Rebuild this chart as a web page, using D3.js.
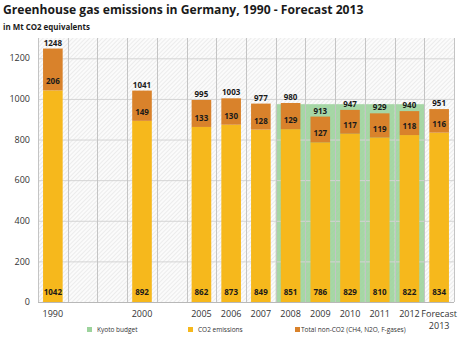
<!DOCTYPE html>
<html><head><meta charset="utf-8">
<script src="https://cdn.jsdelivr.net/npm/d3@7"></script>
<style>body{margin:0;background:#fff}svg{display:block}text{font-family:"Open Sans",sans-serif}</style>
</head><body><svg id="c" width="460" height="337"></svg>
<script>
// ---- data ----
const slots = ["1990","gapA","gapB","2000","gapC","2005","2006","2007","2008","2009","2010","2011","2012","Forecast 2013"];
const categories = ["1990","2000","2005","2006","2007","2008","2009","2010","2011","2012","Forecast 2013"];
const co2 = [1042,892,862,873,849,851,786,829,810,822,834];
const nonCo2 = [206,149,133,130,128,129,127,117,119,118,116];
const totals = [1248,1041,995,1003,977,980,913,947,929,940,951];
const kyotoYears = ["2008","2009","2010","2011","2012"];
const kyotoBudget = [974,974,974,974,974];
const yTicks = [0,200,400,600,800,1000,1200];
const legendLabels = ["Kyoto budget","CO2 emissions","Total non-CO2 (CH4, N2O, F-gases)"];

const C_CO2="#f6b81c", C_NON="#d9822b", C_KYOTO="#9cd39c";
const svg=d3.select("#c");
const L=38,R=454,T=38,B=302;
const x=d3.scaleBand().domain(slots).range([L,R]).paddingInner(0).paddingOuter(0);
const y=d3.scaleLinear().domain([0,1300]).range([B,T]);
const bw=x.bandwidth()*0.66;

// hatch pattern
const defs=svg.append("defs");
const pat=defs.append("pattern").attr("id","hatch").attr("width",3).attr("height",3)
  .attr("patternUnits","userSpaceOnUse").attr("patternTransform","rotate(45)");
pat.append("rect").attr("width",3).attr("height",3).attr("fill","#fbfbfb");
pat.append("line").attr("x1",0).attr("y1",0).attr("x2",0).attr("y2",3).attr("stroke","#dedede").attr("stroke-width",1);
svg.append("rect").attr("x",L).attr("y",T).attr("width",R-L).attr("height",B-T).attr("fill","url(#hatch)");

// kyoto band
svg.append("g").selectAll("rect").data(kyotoYears).join("rect")
  .attr("x",d=>x(d)).attr("width",x.bandwidth())
  .attr("y",(d,i)=>y(kyotoBudget[i])).attr("height",(d,i)=>B-y(kyotoBudget[i]))
  .attr("fill",C_KYOTO).attr("opacity",0.9);

// grid
svg.append("g").selectAll("line").data(yTicks.slice(1)).join("line")
  .attr("x1",L).attr("x2",R).attr("y1",d=>y(d)+0.5).attr("y2",d=>y(d)+0.5)
  .attr("stroke","#d4d4d4").attr("stroke-width",1);
const vx=slots.map(s=>x(s)).concat([R]);
svg.append("g").selectAll("line").data(vx).join("line")
  .attr("x1",d=>Math.round(d)+0.5).attr("x2",d=>Math.round(d)+0.5).attr("y1",T).attr("y2",B)
  .attr("stroke","#c4c4c4").attr("stroke-width",1);
svg.append("line").attr("x1",L).attr("x2",R).attr("y1",B+0.5).attr("y2",B+0.5).attr("stroke","#b8b8b8");

// bars
const g=svg.append("g");
const cx=d=>x(d)+x.bandwidth()/2;
g.selectAll(".co2").data(categories).join("rect")
  .attr("x",d=>cx(d)-bw/2).attr("width",bw)
  .attr("y",(d,i)=>y(co2[i])).attr("height",(d,i)=>B-y(co2[i])).attr("fill",C_CO2);
g.selectAll(".non").data(categories).join("rect")
  .attr("x",d=>cx(d)-bw/2).attr("width",bw)
  .attr("y",(d,i)=>y(co2[i]+nonCo2[i])).attr("height",(d,i)=>y(co2[i])-y(co2[i]+nonCo2[i])).attr("fill",C_NON);

// value labels
const lbl=svg.append("g").attr("font-weight","bold").attr("font-size","8px").attr("fill","#1a1a1a").attr("text-anchor","middle");
categories.forEach((d,i)=>{
  lbl.append("text").attr("x",cx(d)).attr("y",B-7).text(co2[i]);
  lbl.append("text").attr("x",cx(d)).attr("y",y(co2[i])-6).text(nonCo2[i]);
  lbl.append("text").attr("x",cx(d)).attr("y",y(co2[i]+nonCo2[i])-3).text(totals[i]);
});

// y axis labels
svg.append("g").selectAll("text").data(yTicks).join("text")
  .attr("x",30).attr("y",d=>y(d)).attr("dy","0.35em").attr("text-anchor","end")
  .attr("font-size","9px").attr("fill","#333").text(d=>d);

// x labels
const xl=svg.append("g").attr("font-size","9px").attr("fill","#333").attr("text-anchor","middle");
categories.forEach(d=>{
  const parts=d.split(" ");
  parts.forEach((p,j)=>xl.append("text").attr("x",cx(d)).attr("y",316.5+j*12.5).text(p));
});

// legend
const legX=[87,188,295], legC=[C_KYOTO,C_CO2,C_NON];
const lg=svg.append("g").attr("font-size","6.5px").attr("fill","#333");
legendLabels.forEach((t,i)=>{
  lg.append("rect").attr("x",legX[i]).attr("y",327).attr("width",5).attr("height",5).attr("fill",legC[i]);
  lg.append("text").attr("x",legX[i]+(i==2?6:10)).attr("y",332).text(t);
});

// title
const title=svg.append("text").attr("x",3).attr("y",14).attr("font-weight","bold").attr("font-size","13px").attr("fill","#1a1a1a")
  .text("Greenhouse gas emissions in Germany, 1990 - Forecast 2013");
const tw=title.node().getComputedTextLength(); title.attr("font-size",(13*361/tw)+"px");
const sub=svg.append("text").attr("x",3).attr("y",30).attr("font-weight","bold").attr("font-size","8px").attr("fill","#1a1a1a")
  .text("in Mt CO2 equivalents");
const sw=sub.node().getComputedTextLength(); sub.attr("font-size",(8*87/sw)+"px");
</script></body></html>
